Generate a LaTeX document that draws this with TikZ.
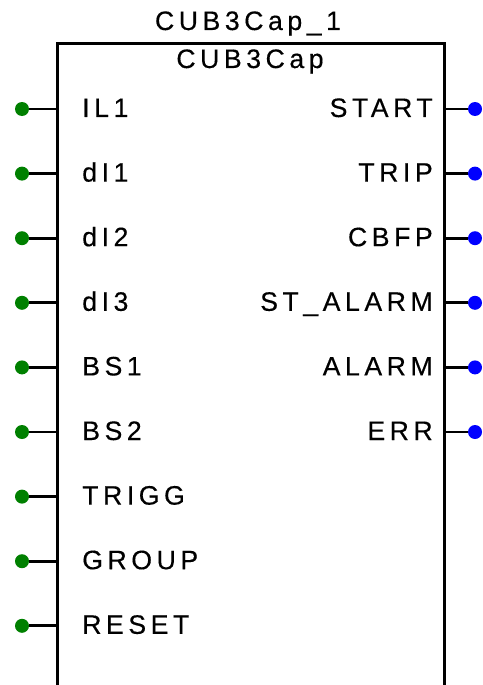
\documentclass[tikz,border=0pt]{standalone}
\usepackage{fontspec}
\setmainfont{Liberation Sans}[LetterSpace=17,FakeBold=0.35]
\definecolor{pingreen}{RGB}{0,128,0}
\definecolor{pinblue}{RGB}{0,0,255}
\begin{document}
\begin{tikzpicture}[x=0.75pt,y=-0.75pt,
  lbl/.style={font=\fontsize{20}{23}\selectfont, inner sep=0pt},
  inpin/.style={circle, fill=pingreen, inner sep=0pt, minimum size=10.5pt},
  outpin/.style={circle, fill=pinblue, inner sep=0pt, minimum size=10.5pt},
  pinline/.style={line width=2.2pt},
  boxline/.style={line width=2.25pt}]
\useasboundingbox (0,0) rectangle (482,685);
% block outline (open at the bottom)
\coordinate (bl) at (57,686);
\coordinate (tl) at (57,44);
\coordinate (tr) at (444,44);
\coordinate (br) at (444,686);
\draw[boxline] (bl) -- (tl) -- (tr) -- (br);
% titles
\node[lbl, anchor=base] (inst) at (248,30) {CUB3Cap\_1};
\node[lbl, anchor=base] (type) at (250,68) {CUB3Cap};
% inputs
\foreach \n/\t [count=\k from 0] in {a/IL1,b/dI1,c/dI2,d/dI3,e/BS1,f/BS2,g/TRIGG,h/GROUP,i/RESET}{
  \pgfmathsetmacro{\yy}{109+64.6*\k}
  \node[inpin] (in\n) at (22,\yy) {};
  \coordinate (ie\n) at (57,\yy);
  \draw[pinline] (in\n) -- (ie\n);
  \node[lbl, anchor=base west] (il\n) at (82,\yy+8) {\t};
}
% outputs
\foreach \n/\t [count=\k from 0] in {a/START,b/TRIP,c/CBFP,d/ST\_ALARM,e/ALARM,f/ERR}{
  \pgfmathsetmacro{\yy}{109+64.6*\k}
  \node[outpin] (out\n) at (475,\yy) {};
  \coordinate (oe\n) at (444,\yy);
  \draw[pinline] (oe\n) -- (out\n);
  \node[lbl, anchor=base east] (ol\n) at (433,\yy+8) {\t};
}
\end{tikzpicture}
\end{document}
